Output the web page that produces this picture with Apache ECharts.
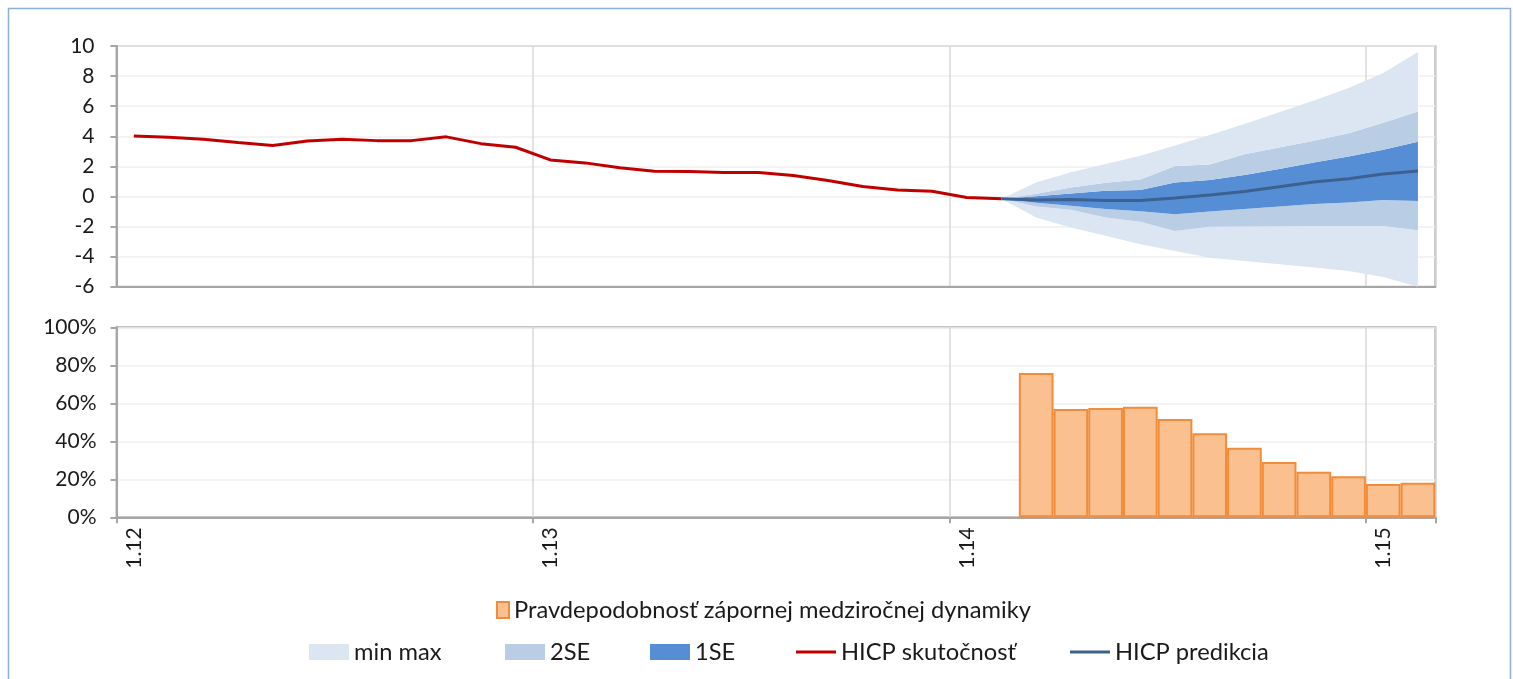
<!DOCTYPE html>
<html>
<head>
<meta charset="utf-8">
<title>HICP</title>
<script src="https://cdn.jsdelivr.net/npm/echarts@6/dist/echarts.min.js"></script>
<style>
  html, body { margin: 0; padding: 0; background: #ffffff; }
  #chart { width: 1513px; height: 679px; }
</style>
</head>
<body>
<div id="chart"></div>
<script>
// Monthly categories, January 2012 to February 2015
const months = [
  '1.12','2.12','3.12','4.12','5.12','6.12','7.12','8.12','9.12','10.12','11.12','12.12',
  '1.13','2.13','3.13','4.13','5.13','6.13','7.13','8.13','9.13','10.13','11.13','12.13',
  '1.14','2.14','3.14','4.14','5.14','6.14','7.14','8.14','9.14','10.14','11.14','12.14',
  '1.15','2.15'
];

// HICP year-on-year change, actual (1.12 - 2.14)
const hicpActual = [
  4.02, 3.93, 3.80, 3.58, 3.38, 3.69, 3.80, 3.71, 3.71, 3.96, 3.51, 3.27,
  2.43, 2.23, 1.90, 1.68, 1.66, 1.59, 1.59, 1.39, 1.06, 0.66, 0.43, 0.34,
  -0.07, -0.15
];

// Forecast (2.14 - 2.15) and its uncertainty bands
const hicpForecast = [-0.15, -0.24, -0.20, -0.27, -0.27, -0.11, 0.09, 0.33, 0.64, 0.96, 1.18, 1.49, 1.69];
const se1Low      = [-0.15, -0.42, -0.62, -0.84, -0.98, -1.18, -1.00, -0.84, -0.67, -0.51, -0.40, -0.24, -0.31];
const se1High     = [-0.15,  0.02,  0.20,  0.38,  0.42,  0.92,  1.10,  1.42,  1.82,  2.25,  2.65,  3.10,  3.64];
const se2Low      = [-0.15, -0.67, -0.89, -1.40, -1.69, -2.29, -2.02, -2.00, -1.98, -1.96, -1.96, -1.96, -2.24];
const se2High     = [-0.15,  0.18,  0.59,  0.91,  1.12,  2.02,  2.13,  2.80,  3.25,  3.70,  4.20,  4.90,  5.64];
const minmaxLow   = [-0.15, -1.40, -2.07, -2.62, -3.18, -3.62, -4.07, -4.29, -4.51, -4.73, -4.95, -5.35, -6.00];
const minmaxHigh  = [-0.15,  0.93,  1.60,  2.16,  2.71,  3.38,  4.09,  4.82,  5.60,  6.38,  7.20,  8.20,  9.60];

// Probability of negative y-o-y dynamics, % (3.14 - 2.15)
const probNegative = [76.0, 57.0, 57.5, 58.2, 51.7, 44.2, 36.6, 29.1, 24.0, 21.6, 17.5, 18.2];

// Axis ticks
const yTop = { min: -6, max: 10, step: 2 };
const yBottom = { min: 0, max: 100, step: 20 };

const legendBar = 'Pravdepodobnosť zápornej medziročnej dynamiky';
const legendLines = ['min max', '2SE', '1SE', 'HICP skutočnosť', 'HICP predikcia'];

const C = {
  minmax: '#dce6f2',
  se2: '#b9cde5',
  se1: '#558ed5',
  actual: '#c00000',
  forecast: '#3c6190',
  barFill: '#fac090',
  barLine: '#f28b3a',
  axis: '#a6a6a6',
  grid: '#efefef',
  vgrid: '#d9d9d9',
  text: '#1a1a1a'
};

// Align a tail series to the end of the month axis
function pad(arr) {
  return new Array(months.length - arr.length).fill(null).concat(arr);
}
function diff(a, b) {
  return pad(a.map((v, i) => Math.round((v - b[i]) * 1000) / 1000));
}

const FONT = 'Lato';
const LEGEND_FONT = 23.7;
const chart = echarts.init(document.getElementById('chart'), null, { renderer: 'canvas' });

function band(name, data, color) {
  return {
    name: name, type: 'line', xAxisIndex: 0, yAxisIndex: 0,
    stack: 'fan', stackStrategy: 'all',
    data: data, symbol: 'none', smooth: false,
    lineStyle: { width: 0 },
    itemStyle: { color: color },
    areaStyle: { color: color, opacity: 1 },
    emphasis: { disabled: true }, silent: true
  };
}

// One legend block per entry, so each sits where it belongs
function legendItem(name, left, top, w, h) {
  return {
    left: left, top: top, padding: 0, itemWidth: w, itemHeight: h, itemGap: 0,
    textStyle: { fontFamily: FONT, fontSize: LEGEND_FONT, color: C.text },
    data: [{ name: name, icon: 'rect' }],
    selectedMode: false
  };
}

const axisLabelStyle = { fontFamily: FONT, fontSize: 21, color: C.text };

chart.setOption({
  animation: false,
  textStyle: { fontFamily: FONT },
  graphic: [{
    type: 'rect', silent: true,
    shape: { x: 8.5, y: 8.5, width: 1502, height: 720 },
    style: { fill: 'none', stroke: '#8eaee0', lineWidth: 1.5 }
  }],
  grid: [
    { left: 116.5, right: 77.7, top: 46, height: 240.7, show: true, borderColor: '#b3b3b3', borderWidth: 2 },
    { left: 116.5, right: 77.7, top: 327.3, height: 190, show: true, borderColor: '#b3b3b3', borderWidth: 2 }
  ],
  legend: [
    legendItem(legendBar, 496, 598, 12, 16),
    legendItem(legendLines[0], 309, 640, 40, 16),
    legendItem(legendLines[1], 505, 640, 40, 16),
    legendItem(legendLines[2], 650, 640, 40, 16),
    legendItem(legendLines[3], 796, 640, 40, 3),
    legendItem(legendLines[4], 1070, 640, 40, 3)
  ],
  xAxis: [
    {
      type: 'category', gridIndex: 0, data: months, boundaryGap: true,
      axisLine: { show: true, onZero: false, lineStyle: { color: C.axis, width: 2 } },
      axisTick: { show: false },
      axisLabel: { show: false },
      splitLine: { show: true, interval: 11, lineStyle: { color: C.vgrid, width: 1.5 } }
    },
    {
      type: 'category', gridIndex: 1, data: months, boundaryGap: true,
      axisLine: { show: true, onZero: false, lineStyle: { color: C.axis, width: 2 } },
      axisTick: { show: true, interval: 11, length: 6, lineStyle: { color: C.axis, width: 2 } },
      axisLabel: Object.assign({ interval: 11, rotate: 90, margin: 10 }, axisLabelStyle),
      splitLine: { show: true, interval: 11, lineStyle: { color: C.vgrid, width: 1.5 } }
    }
  ],
  yAxis: [
    {
      type: 'value', gridIndex: 0, min: yTop.min, max: yTop.max, interval: yTop.step,
      axisLine: { show: true, lineStyle: { color: C.axis, width: 2 } },
      axisTick: { show: true, length: 6, lineStyle: { color: C.axis, width: 2 } },
      axisLabel: Object.assign({ margin: 22 }, axisLabelStyle),
      splitLine: { show: true, lineStyle: { color: C.grid, width: 1.5 } }
    },
    {
      type: 'value', gridIndex: 1, min: yBottom.min, max: yBottom.max, interval: yBottom.step,
      axisLine: { show: true, lineStyle: { color: C.axis, width: 2 } },
      axisTick: { show: true, length: 6, lineStyle: { color: C.axis, width: 2 } },
      axisLabel: Object.assign({ margin: 20, formatter: '{value}%' }, axisLabelStyle),
      splitLine: { show: true, lineStyle: { color: C.grid, width: 1.5 } }
    }
  ],
  series: [
    // fan chart: invisible base, then layers stacked upward
    {
      name: 'fanBase', type: 'line', xAxisIndex: 0, yAxisIndex: 0,
      stack: 'fan', stackStrategy: 'all', data: pad(minmaxLow),
      symbol: 'none', lineStyle: { width: 0 }, silent: true
    },
    band(legendLines[0], diff(se2Low, minmaxLow), C.minmax),
    band(legendLines[1], diff(se1Low, se2Low), C.se2),
    band(legendLines[2], diff(se1High, se1Low), C.se1),
    band(legendLines[1], diff(se2High, se1High), C.se2),
    band(legendLines[0], diff(minmaxHigh, se2High), C.minmax),
    {
      name: legendLines[4], type: 'line', xAxisIndex: 0, yAxisIndex: 0,
      data: pad(hicpForecast), symbol: 'none',
      lineStyle: { color: C.forecast, width: 3 }, itemStyle: { color: C.forecast }, silent: true
    },
    {
      name: legendLines[3], type: 'line', xAxisIndex: 0, yAxisIndex: 0,
      data: hicpActual, symbol: 'none',
      lineStyle: { color: C.actual, width: 3 }, itemStyle: { color: C.actual }, silent: true
    },
    {
      name: legendBar, type: 'bar', xAxisIndex: 1, yAxisIndex: 1,
      data: pad(probNegative), barWidth: '100%',
      itemStyle: { color: C.barFill, borderColor: C.barLine, borderWidth: 2 }, silent: true
    }
  ]
});
</script>
</body>
</html>
